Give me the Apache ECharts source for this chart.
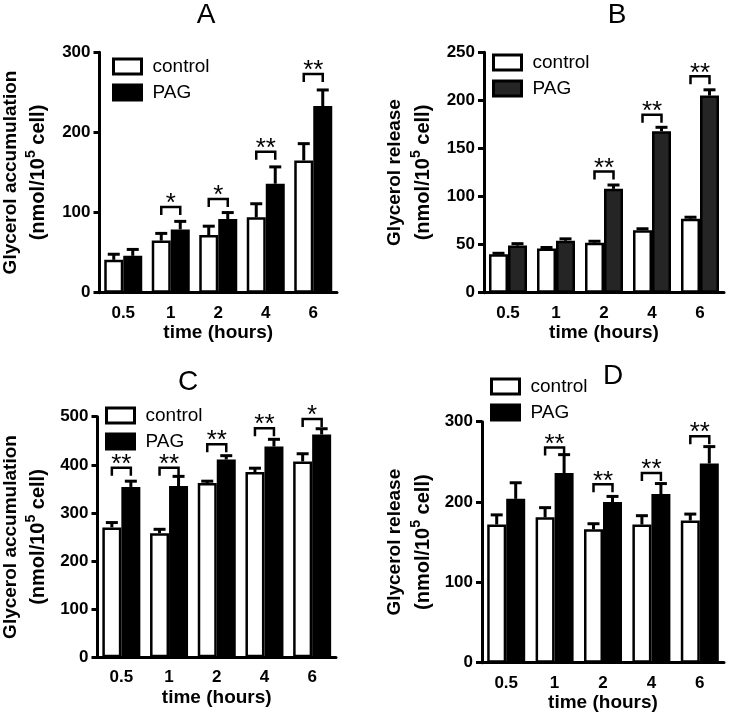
<!DOCTYPE html>
<html>
<head>
<meta charset="utf-8">
<script src="https://cdn.jsdelivr.net/npm/echarts@6/dist/echarts.min.js"></script>
<style>
html,body{margin:0;padding:0;background:#fff;}
#chart{width:730px;height:719px;}
</style>
</head>
<body>
<div id="chart"></div>
<script>
// ---- data ----
const categories = ['0.5', '1', '2', '4', '6'];

const A_control = [41, 65, 72, 94, 165];
const A_controlErr = [7, 9, 11, 17, 21];
const A_pag = [46, 79, 92, 136, 233];
const A_pagErr = [8, 10, 8, 21, 20];
const A_sig = ['', '*', '*', '**', '**'];
const A_bracket = [null, 107, 117, 176, 273];

const B_control = [40, 46, 52, 65, 77];
const B_controlErr = [1, 1, 1.5, 1.5, 1.5];
const B_pag = [49, 54, 108, 168, 205];
const B_pagErr = [2, 2, 4, 4, 6];
const B_sig = ['', '', '**', '**', '**'];
const B_bracket = [null, null, 126, 185, 225];

const C_control = [270, 258, 362, 385, 407];
const C_controlErr = [10, 8, 4, 8, 16];
const C_pag = [354, 356, 411, 438, 463];
const C_pagErr = [12, 20, 8, 15, 12];
const C_sig = ['**', '**', '**', '**', '*'];
const C_bracket = [394, 394, 443, 476, 495];

const D_control = [172, 181, 166, 172, 177];
const D_controlErr = [12, 12, 7, 11, 8];
const D_pag = [204, 236, 200, 210, 248];
const D_pagErr = [20, 23, 7, 13, 21];
const D_sig = ['', '**', '**', '**', '**'];
const D_bracket = [null, 268, 222, 236, 282];

const panelTitles = ['A', 'B', 'C', 'D'];
const yNameLine1 = ['Glycerol accumulation', 'Glycerol release', 'Glycerol accumulation', 'Glycerol release'];
const yNameLine2 = ['(nmol/10', '5', ' cell)'];
const yMax = [300, 250, 500, 300];
const yInterval = [100, 50, 100, 100];
const xName = 'time (hours)';

// ---- layout ----
const FONT = '"Liberation Sans", Arial, sans-serif';
const BAR_W = 19;
const panels = [
  {c: A_control, ce: A_controlErr, p: A_pag, pe: A_pagErr, sig: A_sig, br: A_bracket, pagColor: '#000',
   grid: {left: 96, top: 52.3, width: 241, height: 240.4}, title: {x: 206, y: 1}, legend: {x: 112, y: 57}, nameGap: 47},
  {c: B_control, ce: B_controlErr, p: B_pag, pe: B_pagErr, sig: B_sig, br: B_bracket, pagColor: '#252525',
   grid: {left: 484, top: 52.3, width: 240, height: 240.4}, title: {x: 617, y: 1}, legend: {x: 492, y: 53}, nameGap: 47},
  {c: C_control, ce: C_controlErr, p: C_pag, pe: C_pagErr, sig: C_sig, br: C_bracket, pagColor: '#000',
   grid: {left: 95, top: 416.7, width: 241, height: 240.6}, title: {x: 188, y: 368}, legend: {x: 105, y: 406}, nameGap: 45},
  {c: D_control, ce: D_controlErr, p: D_pag, pe: D_pagErr, sig: D_sig, br: D_bracket, pagColor: '#000',
   grid: {left: 482, top: 421.7, width: 242, height: 241}, title: {x: 613, y: 362}, legend: {x: 490, y: 377}, nameGap: 45}
];

function errRender(offset) {
  return function (params, api) {
    const i = api.value(0), v = api.value(1), e = api.value(2);
    const p0 = api.coord([i, v]);
    const p1 = api.coord([i, v + e]);
    const x = p0[0] + offset;
    return {
      type: 'group',
      children: [
        {type: 'line', shape: {x1: x, y1: p0[1], x2: x, y2: p1[1]}, style: {stroke: '#000', lineWidth: 3}},
        {type: 'line', shape: {x1: x - 6, y1: p1[1], x2: x + 6, y2: p1[1]}, style: {stroke: '#000', lineWidth: 3}}
      ]
    };
  };
}

function bracketRender(labels) {
  return function (params, api) {
    const i = api.value(0), lvl = api.value(1);
    const p = api.coord([i, lvl]);
    const x1 = p[0] - BAR_W / 2, x2 = p[0] + BAR_W / 2, y = p[1];
    return {
      type: 'group',
      children: [
        {type: 'polyline', shape: {points: [[x1, y + 8], [x1, y], [x2, y], [x2, y + 8]]},
         style: {stroke: '#000', lineWidth: 2.5, fill: null}},
        {type: 'text', x: p[0], y: y - 3,
         style: {text: labels[params.dataIndex], fill: '#000', font: 'normal 26px ' + FONT,
                 align: 'center', verticalAlign: 'middle'}}
      ]
    };
  };
}

const option = {
  backgroundColor: '#fff',
  animation: false,
  title: [], legend: [], grid: [], xAxis: [], yAxis: [], series: []
};

panels.forEach((pn, k) => {
  option.title.push({
    text: panelTitles[k], left: pn.title.x, top: pn.title.y, textAlign: 'center', padding: 0,
    textStyle: {fontFamily: FONT, fontSize: 28, fontWeight: 'normal', color: '#000'}
  });
  option.legend.push({
    orient: 'vertical', left: pn.legend.x, top: pn.legend.y, padding: 0, itemGap: 7,
    itemWidth: 28, itemHeight: 15, icon: 'rect', selectedMode: false,
    itemStyle: {borderColor: '#000', borderWidth: 3},
    textStyle: {fontFamily: FONT, fontSize: 19, color: '#000', lineHeight: 19, padding: [0, 0, 0, 6]},
    data: [{name: 'control', itemStyle: {color: '#fff'}}, {name: 'PAG', itemStyle: {color: pn.pagColor}}]
  });
  option.grid.push(Object.assign({containLabel: false}, pn.grid));
  option.xAxis.push({
    type: 'category', gridIndex: k, data: categories,
    name: xName, nameLocation: 'middle', nameGap: 31,
    nameTextStyle: {fontFamily: FONT, fontSize: 19, fontWeight: 'bold', color: '#000'},
    axisLine: {lineStyle: {color: '#000', width: 3}},
    axisTick: {show: false},
    axisLabel: {fontFamily: FONT, fontSize: 17, fontWeight: 'bold', color: '#000', margin: 12},
    splitLine: {show: false}
  });
  option.yAxis.push({
    type: 'value', gridIndex: k, min: 0, max: yMax[k], interval: yInterval[k],
    name: '{t|' + yNameLine1[k] + '}\n{u|' + yNameLine2[0] + '}{s|' + yNameLine2[1] + '}{u|' + yNameLine2[2] + '}',
    nameLocation: 'middle', nameRotate: 90, nameGap: pn.nameGap,
    nameTextStyle: {
      align: 'center',
      rich: {
        t: {fontFamily: FONT, fontSize: 19, fontWeight: 'bold', color: '#000', lineHeight: 28},
        u: {fontFamily: FONT, fontSize: 20, fontWeight: 'bold', color: '#000', lineHeight: 28},
        s: {fontFamily: FONT, fontSize: 14, fontWeight: 'bold', color: '#000', lineHeight: 13, verticalAlign: 'top'}
      }
    },
    axisLine: {show: true, lineStyle: {color: '#000', width: 3}},
    axisTick: {show: true, length: 6, lineStyle: {color: '#000', width: 3}},
    axisLabel: {fontFamily: FONT, fontSize: 17, fontWeight: 'bold', color: '#000', margin: 9},
    splitLine: {show: false}
  });
  option.series.push({
    name: 'control', type: 'bar', xAxisIndex: k, yAxisIndex: k, data: pn.c,
    barWidth: BAR_W, barGap: '0%',
    itemStyle: {color: '#fff', borderColor: '#000', borderWidth: 2.5}
  });
  option.series.push({
    name: 'PAG', type: 'bar', xAxisIndex: k, yAxisIndex: k, data: pn.p,
    barWidth: BAR_W, barGap: '0%',
    itemStyle: {color: pn.pagColor, borderColor: '#000', borderWidth: 2.5}
  });
  option.series.push({
    type: 'custom', xAxisIndex: k, yAxisIndex: k, z: 3, silent: true,
    data: pn.c.map((v, i) => [i, v, pn.ce[i]]),
    renderItem: errRender(-BAR_W / 2)
  });
  option.series.push({
    type: 'custom', xAxisIndex: k, yAxisIndex: k, z: 3, silent: true,
    data: pn.p.map((v, i) => [i, v, pn.pe[i]]),
    renderItem: errRender(BAR_W / 2)
  });
  const idx = [];
  pn.sig.forEach((s, i) => { if (s) idx.push(i); });
  option.series.push({
    type: 'custom', xAxisIndex: k, yAxisIndex: k, z: 4, silent: true,
    data: idx.map(i => [i, pn.br[i]]),
    renderItem: bracketRender(idx.map(i => pn.sig[i]))
  });
});

const chart = echarts.init(document.getElementById('chart'), null, {renderer: 'canvas'});
chart.setOption(option);
</script>
</body>
</html>
